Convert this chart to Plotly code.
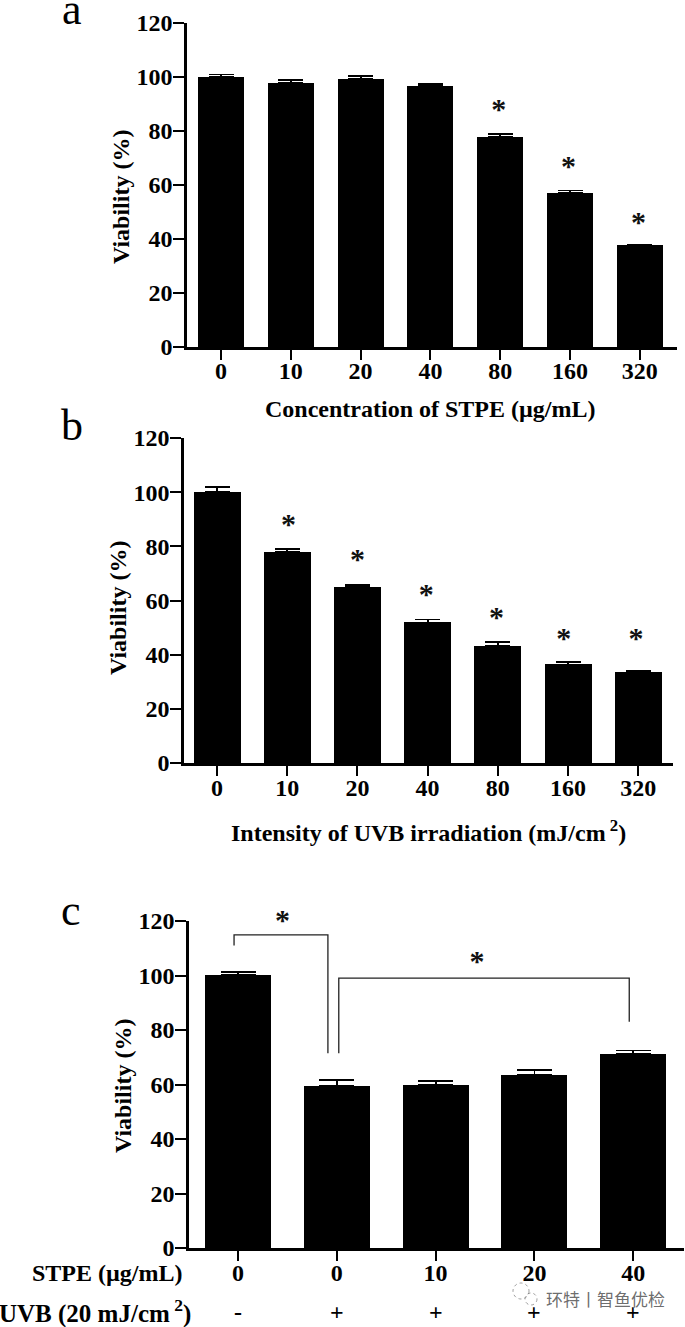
import plotly.graph_objects as go

W, H = 685, 1327
FONT = "Liberation Serif"

cats_a = ["0", "10", "20", "40", "80", "160", "320"]
vals_a = [99.9, 97.8, 99.4, 96.7, 77.7, 57.1, 37.7]
errs_a = [1.0, 1.0, 1.0, 0.8, 1.2, 0.9, 0.3]
star_idx_a = [3.98, 4.98, 5.98]
star_val_a = [87.3, 66.1, 45.5]

cats_b = ["0", "10", "20", "40", "80", "160", "320"]
vals_b = [100, 78, 65, 51.9, 43.3, 36.4, 33.5]
errs_b = [1.8, 0.9, 0.6, 1.1, 1.3, 0.9, 0.6]
star_idx_b = [1.02, 2.0, 2.98, 3.98, 4.94, 5.97]
star_val_b = [87.3, 74.4, 61.4, 52.9, 45.2, 45.2]

cats_c = ["0", "0", "10", "20", "40"]
vals_c = [100.2, 59.6, 59.9, 63.6, 71.3]
errs_c = [1.2, 2.1, 1.3, 1.7, 1.2]
uvb_c = ["-", "+", "+", "+", "+"]
star_idx_c = [0.45, 2.42]
star_val_c = [119.4, 104.4]
br1_x = [-0.04, -0.04, 0.91, 0.91]
br1_y = [111, 114.9, 114.9, 71.5]
br2_x = [1.02, 1.02, 3.96, 3.96]
br2_y = [71.5, 99, 99, 83]
yticks = [0, 20, 40, 60, 80, 100, 120]

panels = [
    dict(s="", l=187, r=677, t=23, b=347, c0=221, dx=69.8, bw=46, cats=cats_a, v=vals_a, e=errs_a, si=star_idx_a, sv=star_val_a, cap=12.5, up=10),
    dict(s="2", l=184, r=673, t=438, b=763, c0=217, dx=70.2, bw=47, cats=cats_b, v=vals_b, e=errs_b, si=star_idx_b, sv=star_val_b, cap=12.5, up=9),
    dict(s="3", l=189, r=684, t=921, b=1248, c0=238, dx=98.8, bw=66, cats=cats_c, v=vals_c, e=errs_c, si=star_idx_c, sv=star_val_c, cap=17.5, up=9),
]

fig = go.Figure()
layout = {}
annots = []

def ann(text, px, py, size, bold=False, rot=0, color="black", family=FONT):
    t = f"<b>{text}</b>" if bold else text
    annots.append(dict(text=t, x=px / W, y=1 - py / H, xref="paper", yref="paper",
                       showarrow=False, textangle=rot, xanchor="center", yanchor="middle",
                       font=dict(family=family, size=size, color=color)))

for p in panels:
    xa, ya = "x" + p["s"], "y" + p["s"]
    n = len(p["v"])
    idx = list(range(n))
    fig.add_trace(go.Bar(x=idx, y=p["v"], xaxis=xa, yaxis=ya, width=p["bw"] / p["dx"],
                         marker=dict(color="black", line=dict(width=0)),
                         error_y=dict(type="data", symmetric=False, array=p["e"], arrayminus=[0] * n,
                                      color="black", thickness=1.8, width=p["cap"]),
                         showlegend=False))
    fig.add_trace(go.Scatter(x=p["si"], y=p["sv"], xaxis=xa, yaxis=ya, mode="text", cliponaxis=False,
                             text=["<b>*</b>"] * len(p["si"]), textposition="middle center",
                             textfont=dict(family=FONT, size=30, color="#111"), showlegend=False))
    rng = [(p["l"] - p["c0"]) / p["dx"], (p["r"] - p["c0"]) / p["dx"]]
    layout["xaxis" + p["s"]] = dict(
        domain=[p["l"] / W, p["r"] / W], range=rng, anchor=ya, tickmode="array", tickvals=idx,
        ticktext=[f"<b>{c}</b>" for c in p["cats"]], ticks="outside", ticklen=10, tickwidth=2.2,
        tickcolor="black", showline=True, linecolor="black", linewidth=2.6, showgrid=False, zeroline=False,
        ticklabelstandoff=-p["up"],
        tickfont=dict(family=FONT, size=24, color="black"))
    layout["yaxis" + p["s"]] = dict(
        domain=[1 - p["b"] / H, 1 - p["t"] / H], range=[0, 120], anchor=xa, tickmode="array", tickvals=yticks,
        ticktext=[f"<b>{v}</b>" for v in yticks], ticks="outside", ticklen=11, tickwidth=2.2,
        tickcolor="black", showline=True, linecolor="black", linewidth=2.6, showgrid=False, zeroline=False,
        ticklabelstandoff=-4,
        tickfont=dict(family=FONT, size=24, color="black"))

for bx, by in [(br1_x, br1_y), (br2_x, br2_y)]:
    fig.add_trace(go.Scatter(x=bx, y=by, xaxis="x3", yaxis="y3", mode="lines",
                             line=dict(color="#222", width=1.3), showlegend=False))

ann("a", 72, 10, 44)
ann("b", 72, 425, 44)
ann("c", 71, 910, 44)
ann("Viability (%)", 121, 197, 24, True, -90)
ann("Viability (%)", 118, 608, 24, True, -90)
ann("Viability (%)", 123, 1086, 24, True, -90)
ann("Concentration of STPE (µg/mL)", 430, 409, 24, True)
ann("Intensity of UVB irradiation (mJ/cm<sup> 2</sup>)", 428, 831, 24, True)
ann("STPE (µg/mL)", 107, 1273, 24, True)
ann("UVB (20 mJ/cm<sup> 2</sup>)", 95, 1311, 25, True)
for i, s in enumerate(uvb_c):
    annots.append(dict(text=f"<b>{s}</b>", x=i, y=1 - 1312 / H, xref="x3", yref="paper", showarrow=False,
                       xanchor="center", yanchor="middle", font=dict(family=FONT, size=24, color="black")))
ann("环特丨智鱼优检", 605, 1298, 17, False, 0, "rgba(70,70,70,0.8)", "Noto Sans CJK SC")

rings = []
for cx, cy, r in [(521, 1291, 8), (531, 1299, 6)]:
    rings.append(dict(type="circle", xref="paper", yref="paper",
                      x0=(cx - r) / W, x1=(cx + r) / W, y0=1 - (cy + r) / H, y1=1 - (cy - r) / H,
                      line=dict(color="rgba(120,120,120,0.7)", width=1, dash="dot")))

fig.update_layout(width=W, height=H, margin=dict(l=0, r=0, t=0, b=0, autoexpand=False), paper_bgcolor="white",
                  plot_bgcolor="white", bargap=0, annotations=annots, shapes=rings, **layout)
fig.write_html("out.html", config=dict(displayModeBar=False),
               post_script="document.body.style.margin='0';")
